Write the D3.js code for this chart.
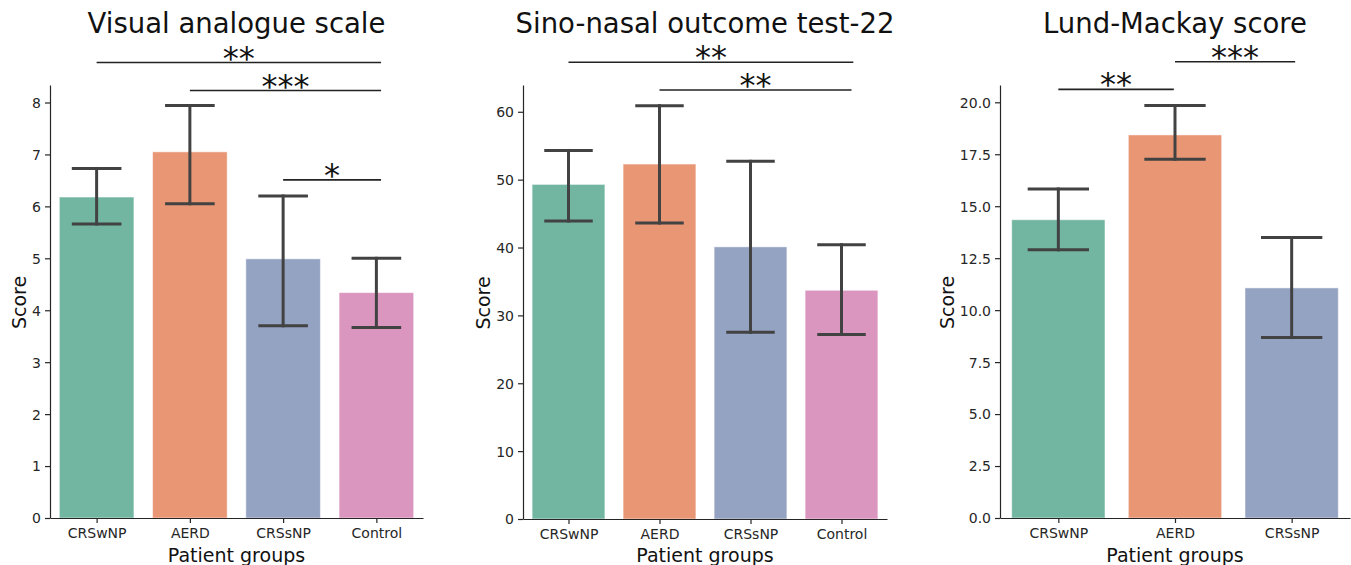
<!DOCTYPE html>
<html>
  <head>
    <meta charset="utf-8">
    <script src="https://d3js.org/d3.v7.min.js"></script>
    <title>Patient group scores</title>
    <style>
      body {
        margin: 0px;
        background: #ffffff;
      }
      text {
        font-family: 'DejaVu Sans', sans-serif;
      }
      .tick text {
        fill: #262626;
        font-size: 14px;
      }
      .tick line, .domain {
        stroke: #262626;
        stroke-width: 1.2px;
      }
      .axis-label {
        fill: #111111;
        font-size: 19px;
        text-anchor: middle;
      }
      .title {
        fill: #111111;
        font-size: 27.5px;
        text-anchor: middle;
      }
      .sig-text {
        fill: #111111;
        font-size: 32px;
        text-anchor: middle;
      }
    </style>
  </head>
  <body>
    <script>
      const groups = ['CRSwNP', 'AERD', 'CRSsNP', 'Control'];
      const groupColors = ['#72b6a1', '#e99675', '#95a3c3', '#db96c0'];

      // Visual analogue scale
      const vasMean = [6.18, 7.05, 4.99, 4.34];
      const vasLow = [5.66, 6.05, 3.70, 3.67];
      const vasHigh = [6.73, 7.94, 6.20, 5.00];
      const vasTicks = [0, 1, 2, 3, 4, 5, 6, 7, 8];
      const vasSig = [
        { from: 0, to: 3.05, y: 8.77, label: '**' },
        { from: 1, to: 3.05, y: 8.23, label: '***' },
        { from: 2, to: 3.05, y: 6.51, label: '*' }
      ];

      // Sino-nasal outcome test-22
      const snotMean = [49.3, 52.3, 40.1, 33.7];
      const snotLow = [43.9, 43.6, 27.5, 27.2];
      const snotHigh = [54.3, 60.9, 52.7, 40.4];
      const snotTicks = [0, 10, 20, 30, 40, 50, 60];
      const snotSig = [
        { from: 0, to: 3.13, y: 67.3, label: '**' },
        { from: 1, to: 3.11, y: 63.2, label: '**' }
      ];

      // Lund-Mackay score (no control group)
      const lmGroups = ['CRSwNP', 'AERD', 'CRSsNP'];
      const lmMean = [14.35, 18.43, 11.07];
      const lmLow = [12.9, 17.26, 8.68];
      const lmHigh = [15.83, 19.84, 13.49];
      const lmTicks = [0, 2.5, 5, 7.5, 10, 12.5, 15, 17.5, 20];
      const lmSig = [
        { from: 0, to: 0.99, y: 20.62, label: '**' },
        { from: 1, to: 2.03, y: 21.95, label: '***' }
      ];

      const width = 1351;
      const height = 565;

      const svg = d3.select('body').append('svg')
        .attr('width', width)
        .attr('height', height);

      const panels = [
        { title: 'Visual analogue scale', cats: groups, mean: vasMean, low: vasLow, high: vasHigh,
          ticks: vasTicks, fmt: d3.format('d'), sig: vasSig, left: 50, right: 423, bottom: 518 },
        { title: 'Sino-nasal outcome test-22', cats: groups, mean: snotMean, low: snotLow, high: snotHigh,
          ticks: snotTicks, fmt: d3.format('d'), sig: snotSig, left: 523, right: 887, bottom: 519 },
        { title: 'Lund-Mackay score', cats: lmGroups, mean: lmMean, low: lmLow, high: lmHigh,
          ticks: lmTicks, fmt: d3.format('.1f'), sig: lmSig, left: 1000, right: 1350, bottom: 518 }
      ];

      const plotTop = 85;

      panels.forEach(p => {
        const n = p.cats.length;
        const g = svg.append('g');

        // category position scale, index -0.5 .. n-0.5 like seaborn
        const xIdx = d3.scaleLinear()
          .domain([-0.5, n - 0.5])
          .range([p.left, p.right]);
        const step = xIdx(1) - xIdx(0);

        const yScale = d3.scaleLinear()
          .domain([0, d3.max(p.high) * 1.05])
          .range([p.bottom, plotTop]);

        const data = p.cats.map((c, i) => ({
          cat: c, i: i, mean: p.mean[i], low: p.low[i], high: p.high[i], color: groupColors[i]
        }));

        g.selectAll('rect.bar').data(data)
          .enter().append('rect')
            .attr('class', 'bar')
            .attr('x', d => xIdx(d.i - 0.4))
            .attr('width', step * 0.8)
            .attr('y', d => yScale(d.mean))
            .attr('height', d => yScale(0) - yScale(d.mean))
            .attr('fill', d => d.color)
            .attr('stroke', '#ffffff')
            .attr('stroke-opacity', 0.5)
            .attr('stroke-width', 1);

        // error bars
        const err = g.selectAll('g.err').data(data)
          .enter().append('g')
            .attr('class', 'err')
            .attr('stroke', '#424242')
            .attr('stroke-width', 3)
            .attr('stroke-linecap', 'square');
        err.append('line')
          .attr('x1', d => xIdx(d.i)).attr('x2', d => xIdx(d.i))
          .attr('y1', d => yScale(d.low)).attr('y2', d => yScale(d.high));
        err.append('line')
          .attr('x1', d => xIdx(d.i - 0.25)).attr('x2', d => xIdx(d.i + 0.25))
          .attr('y1', d => yScale(d.low)).attr('y2', d => yScale(d.low));
        err.append('line')
          .attr('x1', d => xIdx(d.i - 0.25)).attr('x2', d => xIdx(d.i + 0.25))
          .attr('y1', d => yScale(d.high)).attr('y2', d => yScale(d.high));

        // axes
        const yAxisG = g.append('g')
          .attr('transform', `translate(${p.left},0)`)
          .call(d3.axisLeft(yScale).tickValues(p.ticks).tickFormat(p.fmt)
            .tickSize(5).tickPadding(4).tickSizeOuter(0));
        yAxisG.selectAll('.tick text').attr('dy', '0.35em');

        const xAxisG = g.append('g')
          .attr('transform', `translate(0,${p.bottom})`)
          .call(d3.axisBottom(xIdx).tickValues(d3.range(n)).tickFormat(i => p.cats[i])
            .tickSize(5).tickPadding(4).tickSizeOuter(0));
        xAxisG.selectAll('.tick text').attr('dy', '0.78em');

        g.append('text')
          .attr('class', 'axis-label')
          .attr('x', (p.left + p.right) / 2)
          .attr('y', 562)
          .text('Patient groups');

        // y label sits just left of the widest tick label
        let labelW = 0;
        yAxisG.selectAll('.tick text').each(function() {
          labelW = Math.max(labelW, this.getComputedTextLength());
        });
        g.append('text')
          .attr('class', 'axis-label')
          .attr('transform', `translate(${p.left - labelW - 15},${(plotTop + p.bottom) / 2 + 1}) rotate(-90)`)
          .text('Score');

        g.append('text')
          .attr('class', 'title')
          .attr('x', (p.left + p.right) / 2)
          .attr('y', 33)
          .text(p.title);

        // significance brackets
        const sig = g.selectAll('g.sig').data(p.sig)
          .enter().append('g')
            .attr('class', 'sig');
        sig.append('line')
          .attr('x1', d => xIdx(d.from)).attr('x2', d => xIdx(d.to))
          .attr('y1', d => yScale(d.y)).attr('y2', d => yScale(d.y))
          .attr('stroke', '#222222')
          .attr('stroke-width', 1.6);
        sig.append('text')
          .attr('class', 'sig-text')
          .attr('x', d => (xIdx(d.from) + xIdx(d.to)) / 2)
          .attr('y', d => yScale(d.y) + 6)
          .text(d => d.label);
      });
    </script>
  </body>
</html>
